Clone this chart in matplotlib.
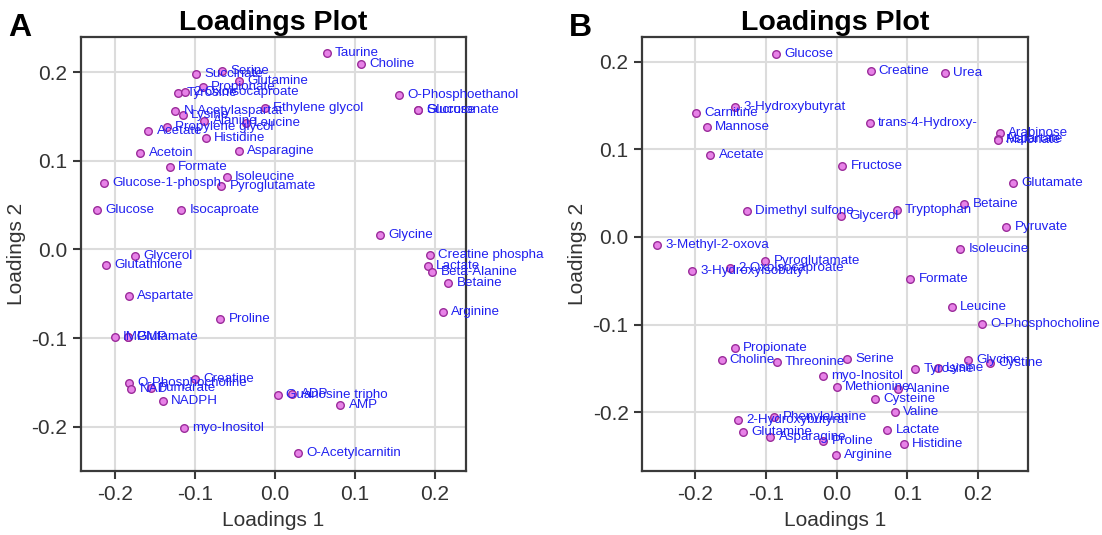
import matplotlib
matplotlib.use("Agg")
import matplotlib.pyplot as plt

plt.rcParams['font.family'] = ['Liberation Sans', 'DejaVu Sans']
plt.rcParams['axes.unicode_minus'] = False

# ---------------- Panel A data ----------------
names_a = ["Succinate", "Serine", "Glutamine", "Propionate", "Tyrosine", "2-Oxoisocaproate",
           "N-Acetylaspartat", "Lysine", "Ethylene glycol", "Alanine", "Leucine",
           "Propylene glycol", "Acetate", "Histidine", "Acetoin", "Asparagine",
           "Taurine", "Choline", "O-Phosphoethanol", "Glucuronate", "Sucrose",
           "Formate", "Glucose-1-phosph", "Isoleucine", "Pyroglutamate", "Glucose",
           "Isocaproate", "Glycerol", "Glutathione", "Glycine", "Creatine phospha",
           "Lactate", "Beta-Alanine", "Betaine", "Arginine", "Aspartate", "Proline",
           "IMP", "GMP", "Glutamate", "O-Phosphocholine", "NAD", "Fumarate", "Creatine",
           "NADPH", "myo-Inositol", "Guanosine tripho", "ADP", "AMP", "O-Acetylcarnitin"]
x_a = [-0.098, -0.066, -0.044, -0.090, -0.121, -0.112,
       -0.124, -0.115, -0.012, -0.088, -0.036,
       -0.135, -0.158, -0.086, -0.168, -0.045,
       0.065, 0.108, 0.155, 0.179, 0.179,
       -0.131, -0.213, -0.060, -0.067, -0.222,
       -0.117, -0.174, -0.211, 0.132, 0.194,
       0.191, 0.197, 0.217, 0.210, -0.182, -0.068,
       -0.200, -0.183, -0.183, -0.182, -0.179, -0.155, -0.100,
       -0.140, -0.113, 0.004, 0.022, 0.082, 0.029]
y_a = [0.198, 0.201, 0.190, 0.183, 0.176, 0.177,
       0.156, 0.152, 0.160, 0.145, 0.143,
       0.138, 0.134, 0.126, 0.109, 0.111,
       0.222, 0.209, 0.174, 0.157, 0.157,
       0.093, 0.075, 0.082, 0.071, 0.044,
       0.044, -0.007, -0.018, 0.016, -0.006,
       -0.019, -0.025, -0.038, -0.071, -0.053, -0.079,
       -0.099, -0.099, -0.099, -0.151, -0.158, -0.156, -0.146,
       -0.171, -0.201, -0.164, -0.163, -0.176, -0.230]

# ---------------- Panel B data ----------------
names_b = ["Glucose", "Carnitine", "3-Hydroxybutyrat", "Mannose", "Acetate", "Fructose",
           "Creatine", "Urea", "trans-4-Hydroxy-", "Arabinose", "Aspartate", "Malonate",
           "Glutamate", "Betaine", "Tryptophan", "Glycerol", "Pyruvate", "Isoleucine",
           "Formate", "Leucine", "O-Phosphocholine", "Dimethyl sulfone", "3-Methyl-2-oxova",
           "Pyroglutamate", "3-Hydroxyisobuty", "2-Oxoisocaproate", "Propionate", "Choline",
           "Threonine", "Serine", "myo-Inositol", "Methionine", "2-Hydroxybutyrat",
           "Phenylalanine", "Glutamine", "Asparagine", "Proline", "Arginine", "Tyrosine",
           "Lysine", "Glycine", "Cystine", "Alanine", "Cysteine", "Valine", "Lactate",
           "Histidine"]
x_b = [-0.086, -0.199, -0.144, -0.184, -0.179, 0.008,
       0.048, 0.153, 0.047, 0.231, 0.228, 0.228,
       0.250, 0.181, 0.085, 0.006, 0.240, 0.175,
       0.104, 0.163, 0.206, -0.127, -0.254,
       -0.101, -0.205, -0.151, -0.144, -0.163,
       -0.085, 0.015, -0.019, 0.000, -0.139,
       -0.088, -0.133, -0.094, -0.019, -0.001, 0.111,
       0.143, 0.186, 0.217, 0.087, 0.055, 0.082, 0.072,
       0.095]
y_b = [0.209, 0.141, 0.148, 0.125, 0.094, 0.081,
       0.189, 0.187, 0.130, 0.119, 0.112, 0.111,
       0.061, 0.038, 0.031, 0.024, 0.011, -0.014,
       -0.048, -0.080, -0.099, 0.029, -0.009,
       -0.027, -0.039, -0.035, -0.127, -0.140,
       -0.143, -0.139, -0.159, -0.171, -0.209,
       -0.205, -0.223, -0.228, -0.233, -0.249, -0.151,
       -0.150, -0.140, -0.144, -0.173, -0.185, -0.200, -0.220,
       -0.236]

ticks = [-0.2, -0.1, 0.0, 0.1, 0.2]
tick_labels = ["-0.2", "-0.1", "0.0", "0.1", "0.2"]

fig = plt.figure(figsize=(11.02, 5.35), dpi=100)
axA = fig.add_axes([0.0735, 0.1196, 0.3494, 0.8112])
axB = fig.add_axes([0.5830, 0.1196, 0.3498, 0.8112])

def style(ax, xlim, ylim):
    ax.set_xlim(*xlim)
    ax.set_ylim(*ylim)
    ax.set_xticks(ticks)
    ax.set_xticklabels(tick_labels)
    ax.set_yticks(ticks)
    ax.set_yticklabels(tick_labels)
    ax.grid(True, color="#dcdcdc", lw=1.5)
    ax.set_axisbelow(True)
    for s in ax.spines.values():
        s.set_color("#3a3a3a")
        s.set_linewidth(1.6)
    ax.tick_params(direction="out", length=6, width=1.5, color="#3a3a3a",
                   labelsize=15, labelcolor="#333333", pad=4)
    ax.set_xlabel("Loadings 1", fontsize=15, color="#333333", labelpad=5)
    ax.set_ylabel("Loadings 2", fontsize=15, color="#333333", labelpad=4)
    ax.set_title("Loadings Plot", fontsize=20.5, fontweight="bold", pad=5)

def draw(ax, names, xs, ys):
    ax.scatter(xs, ys, s=30, facecolor="#e782e7", edgecolor="#9b2c9b",
               linewidth=1.0, zorder=3, clip_on=False)
    for n, x, y in zip(names, xs, ys):
        ax.annotate(n, (x, y), xytext=(6, 0), textcoords="offset points",
                    fontsize=9.6, color="#2020f0", va="center", ha="left",
                    annotation_clip=False, zorder=4)

style(axA, (-0.242, 0.239), (-0.250, 0.2395))
draw(axA, names_a, x_a, y_a)
style(axB, (-0.275, 0.271), (-0.267, 0.228))
draw(axB, names_b, x_b, y_b)

fig.text(0.007, 0.932, "A", fontsize=23, fontweight="bold")
fig.text(0.516, 0.932, "B", fontsize=23, fontweight="bold")

fig.savefig("out.png", dpi=100, facecolor="white")
